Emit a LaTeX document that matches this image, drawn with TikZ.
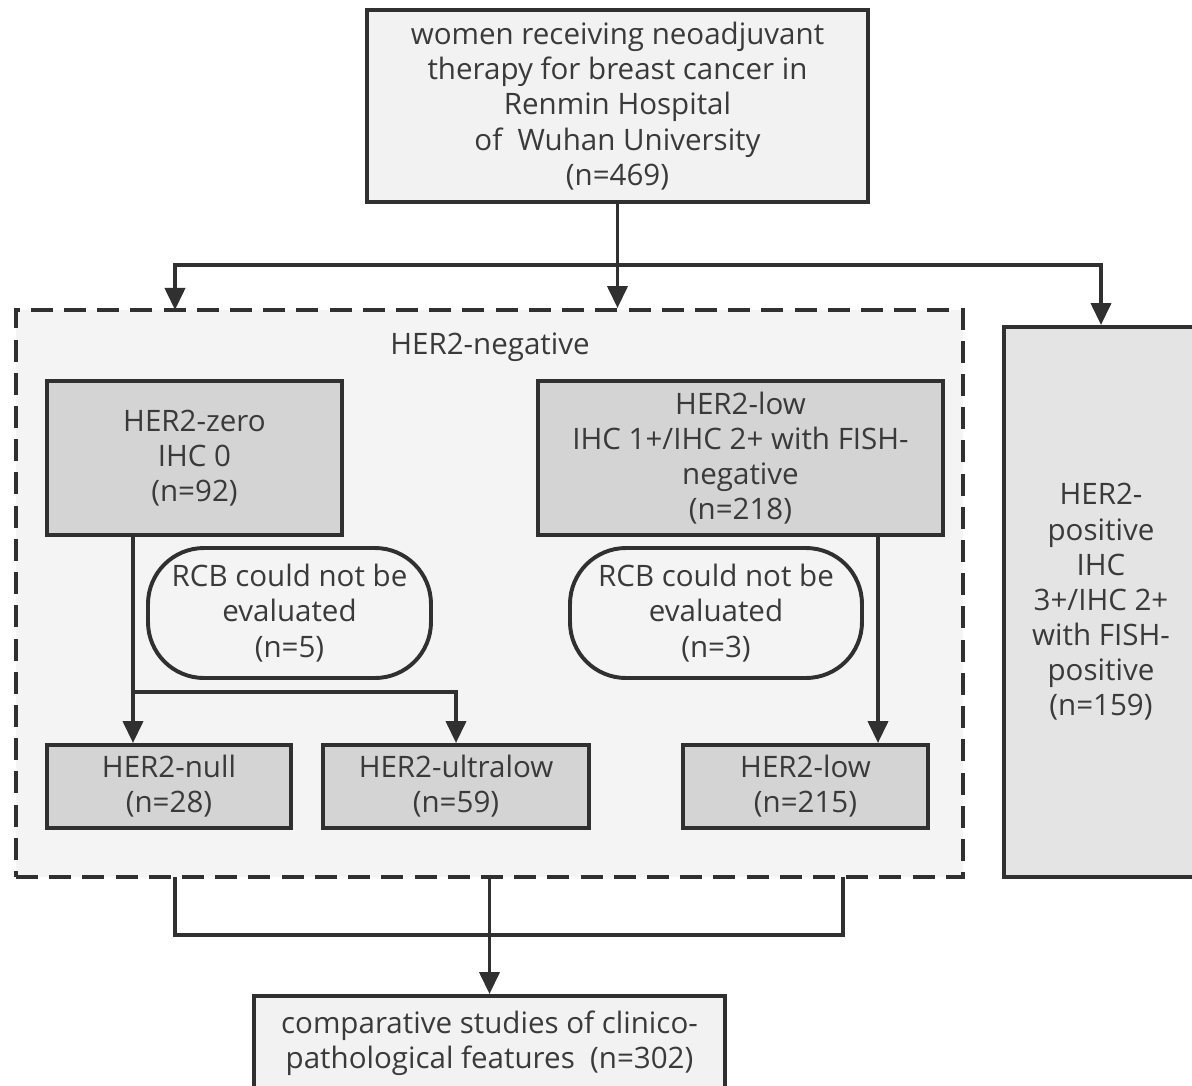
\documentclass[tikz,border=0pt]{standalone}
\usepackage{fontspec}
\setmainfont{Open Sans}
\usetikzlibrary{arrows.meta}

\definecolor{linegray}{HTML}{303030}
\definecolor{textgray}{HTML}{3A3A3A}
\definecolor{lightfill}{HTML}{F2F2F2}
\definecolor{darkfill}{HTML}{D4D4D4}
\definecolor{regionfill}{HTML}{F4F4F4}
\definecolor{posfill}{HTML}{E4E4E4}

\begin{document}
\begin{tikzpicture}[
    x = 0.025cm,
    y = -0.025cm,
    line width = 2.8pt,
    >={Triangle[length=0.55cm,width=0.5cm]},
    wh/.style 2 args = {
      minimum width = #1*0.025cm,
      minimum height = #2*0.025cm
    },
    box/.style = {
      draw = linegray,
      fill = lightfill,
      align = center,
      inner sep = 0pt,
      text = textgray,
      font = \fontsize{21}{25}\selectfont
    },
    dark/.style = {box, fill = darkfill},
    pill/.style = {box, fill = regionfill, rounded corners = 1.4cm},
    region/.style = {
      draw = linegray,
      fill = regionfill,
      dash pattern = on 0.55cm off 0.28cm
    },
    link/.style = {draw = linegray},
    arr/.style = {link, ->}
  ]
  \useasboundingbox (0,0) rectangle (1192,1086);
  \clip (0,0) rectangle (1192,1086);

  % boxes
  \node[box, wh={501}{192}] (top) at (617.5,106)
    {women receiving neoadjuvant\\therapy for breast cancer in\\Renmin Hospital\\of~~Wuhan University\\(n=469)};

  \node[region, wh={947}{567}] (neg) at (489.5,593.5) {};
  \node[text = textgray, font = \fontsize{21}{25}\selectfont] (neglabel) at (490,347) {HER2-negative};

  \node[dark, wh={295}{154}] (zero) at (194.5,458) {HER2-zero\\IHC 0\\(n=92)};
  \node[dark, wh={405}{154}] (lowtop) at (740.5,458)
    {HER2-low\\IHC 1+/IHC 2+ with FISH-\\negative\\(n=218)};

  \node[pill, wh={283}{130}] (rcbzero) at (289.5,613) {RCB could not be\\evaluated\\(n=5)};
  \node[pill, wh={292}{130}] (rcblow) at (716,613) {RCB could not be\\evaluated\\(n=3)};

  \node[dark, wh={244}{83}] (null) at (169,786.5) {HER2-null\\(n=28)};
  \node[dark, wh={266}{83}] (ultra) at (456,786.5) {HER2-ultralow\\(n=59)};
  \node[dark, wh={245}{83}] (lowbot) at (805.5,786.5) {HER2-low\\(n=215)};

  \node[box, fill = posfill, wh={194}{550}] (pos) at (1101,602)
    {HER2-\\positive\\IHC\\3+/IHC 2+\\with FISH-\\positive\\(n=159)};

  \node[box, wh={471}{94}] (res) at (489.5,1043)
    {comparative studies of clinico-\\pathological features~~(n=302)};

  % connectors
  \coordinate (split) at (top.south |- 0,265);
  \coordinate (negleft) at (175,310);
  \coordinate (zerob) at (133,535);
  \coordinate (branch) at (133,692);
  \coordinate (lowb) at (878,535);
  \coordinate (joinl) at (175,877);
  \coordinate (joinr) at (843,877);

  \draw[arr] (top.south) -- (top.south |- neg.north);
  \draw[arr] (split) -| (negleft);
  \draw[arr] (split) -| (pos.north);

  \draw[arr] (zerob) -- (zerob |- null.north);
  \draw[arr] (branch) -| (ultra.north);
  \draw[arr] (lowb) -- (lowb |- lowbot.north);

  \draw[link] (joinl) -- ++(0,58) -| (joinr);
  \draw[arr] (neg.south) -- (res.north);

\end{tikzpicture}
\end{document}
